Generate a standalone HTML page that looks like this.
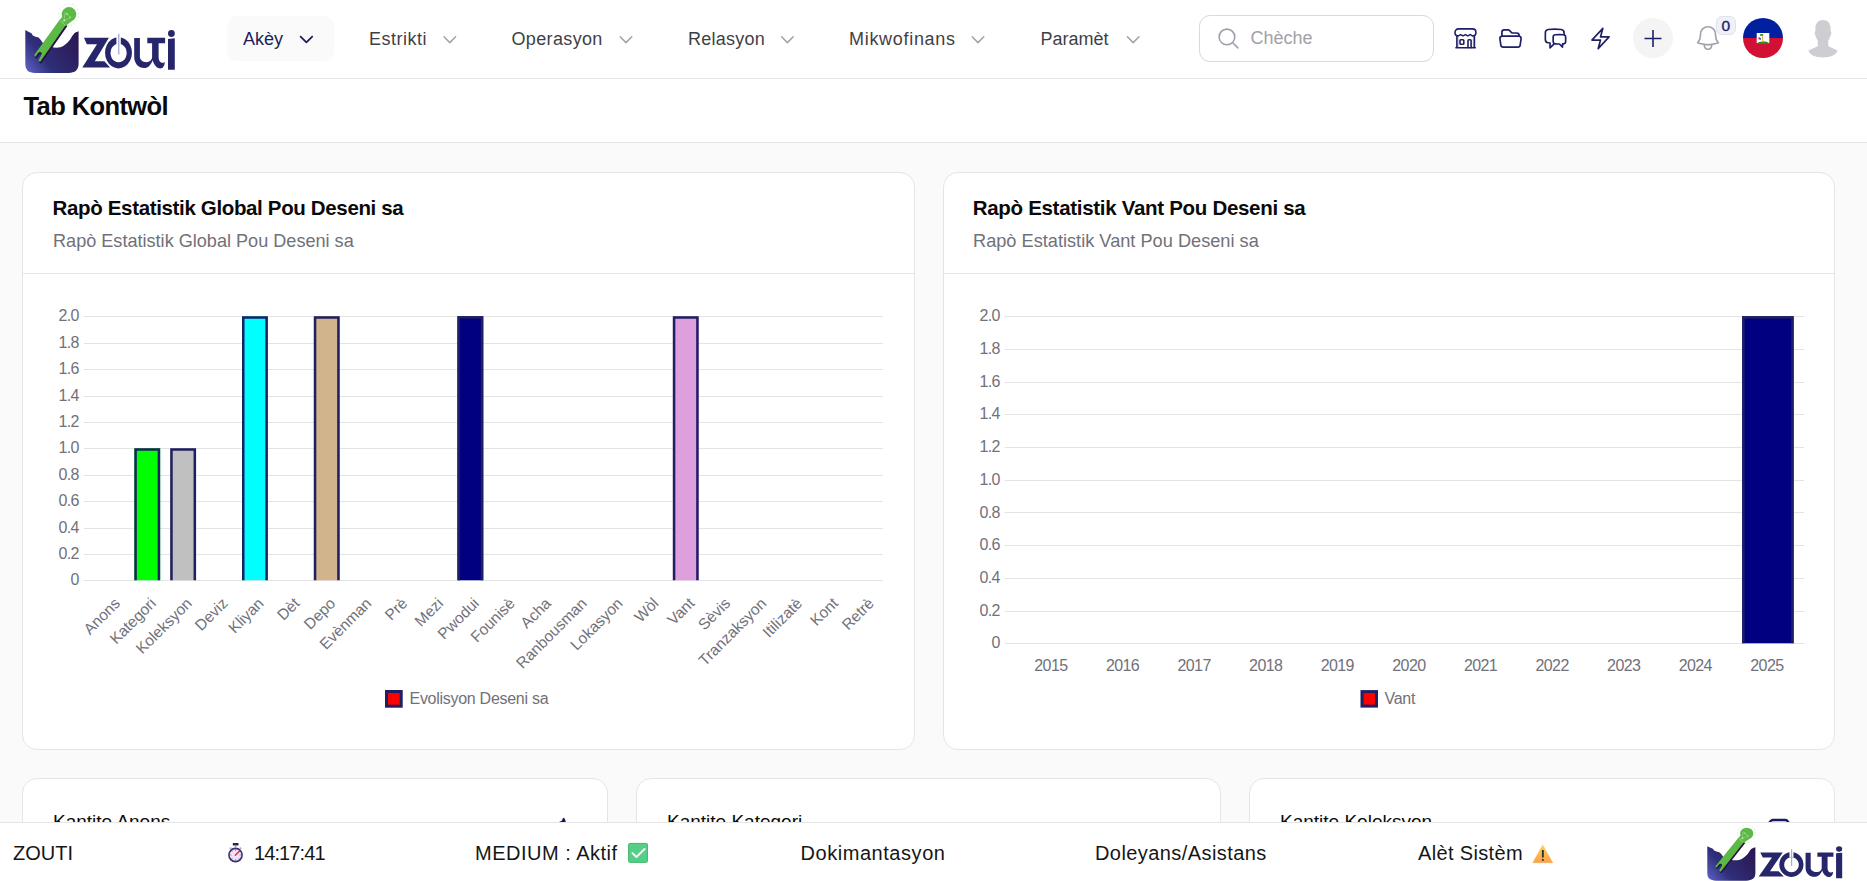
<!DOCTYPE html>
<html><head><meta charset="utf-8">
<style>
*{box-sizing:border-box;margin:0;padding:0}
html,body{width:1867px;height:881px;overflow:hidden;background:#fafafa;font-family:"Liberation Sans",sans-serif}
.abs{position:absolute}
.t{position:absolute;white-space:nowrap;line-height:1}
#hdr{position:absolute;left:0;top:0;width:1867px;height:79px;background:#fff;border-bottom:1px solid #e5e5e5;box-shadow:0 1px 2px rgba(0,0,0,0.035)}
#band{position:absolute;left:0;top:79px;width:1867px;height:64px;background:#fff;border-bottom:1px solid #e5e5e5}
.card{position:absolute;background:#fff;border:1px solid #e5e5e5;border-radius:15px}
.nav{font-size:18px;color:#3f3f46;top:29.6px}
.ax{font-size:15.5px;fill:#71717a;font-family:"Liberation Sans",sans-serif}.axn{font-size:16px;letter-spacing:-0.6px}
#ftr{position:absolute;left:0;top:822px;width:1867px;height:59px;background:#fff;border-top:1px solid #e5e5e5}
.ft{font-size:20px;color:#161616;top:842.8px}
</style></head><body>
<div id="hdr"></div>
<svg class="abs" style="left:15px;top:0" width="170" height="80" viewBox="15 0 170 80"><defs>
<linearGradient id="bowlg" x1="25" y1="72" x2="78" y2="35" gradientUnits="userSpaceOnUse">
<stop offset="0" stop-color="#6064c8"/>
<stop offset="0.35" stop-color="#2f2f7a"/>
<stop offset="1" stop-color="#2c1650"/>
</linearGradient>
</defs>
<path d="M25.3,30.1 L28.9,31.9 L31.5,33.2 L32.8,35.4 L35.5,36.8 L38.6,37.6 L40.8,39.9 L43.5,44 L51.9,46.9 C55,48 60,48.2 64.3,45.2 C67,43.3 69,41 70.5,39 C72,36.5 73,34.8 74,33.7 C75.2,32.5 76.8,31.7 78.6,31.3 L78.6,63.5 C78.6,70 75,72.9 68.5,72.9 L35,72.9 C28.5,72.9 25.3,70 25.3,63.5 Z" fill="url(#bowlg)"/>
<path transform="translate(0.9,2.0)" d="M60.0,19.3 L34.09,55.32 L35.45,56.68 L38.5,52.6 C39,51.9 40.2,51.8 40.9,52.3 C41.6,52.8 41.9,53.6 41.6,54.3 L38.5,60.4 L40.2,61.8 L66.5,24.0 Z" fill="#2a1243"/>
<path d="M60.0,19.3 L34.09,55.32 L35.45,56.68 L38.5,52.6 C39,51.9 40.2,51.8 40.9,52.3 C41.6,52.8 41.9,53.6 41.6,54.3 L38.5,60.4 L40.2,61.8 L66.5,24.0 Z" fill="#5cb946"/>
<circle cx="69" cy="14.3" r="7.3" fill="#5cb946"/>
<path d="M62.2,16.5 L59.6,20.6 L65.9,25.8 L72.6,20.4 Z" fill="#5cb946"/>
<g stroke="#e6f4df" fill="none" opacity="0.75">
<path d="M60.3,21.1 L65.6,25.4" stroke-width="0.55"/>
<path d="M65.2,12.3 L70.7,17.7 M65.2,12.3 L63.9,20.4 M61.9,21.4 L71.3,17.4" stroke-width="0.45"/>
</g>
<circle cx="67" cy="13.9" r="0.8" fill="#d4ecc8" opacity="0.8"/><circle cx="64.4" cy="20.4" r="1" fill="#d4ecc8" opacity="0.8"/><circle cx="70" cy="17.2" r="0.6" fill="#d4ecc8" opacity="0.8"/>
<path d="M68.96,4.35L68.96,3.15 M72.17,4.99L72.56,3.86 M65.44,5.32L64.99,4.21 M74.73,6.61L75.45,5.65 M62.56,7.25L61.75,6.37 M76.95,9.83L77.99,9.24 M60.64,9.82L59.58,9.25 M77.90,13.34L79.09,13.21 M59.34,13.34L58.15,13.22 M77.58,16.85L78.73,17.20 M59.66,16.87L58.51,17.18 M76.33,20.39L77.25,21.15 M74.11,23.31L74.70,24.36 M71.22,24.61L71.47,25.78 M68.32,25.28L68.24,26.48" stroke="#9fd68d" stroke-width="0.75" opacity="0.75"/>
<g fill="#27266b">
<path d="M84,37.8 H108.9 L94.8,61.3 H104.4 L110.1,67.6 H82.3 L97,44.2 H86.8 Z"/>
<ellipse cx="118.5" cy="52.8" rx="13.45" ry="15.6" fill="none" stroke="#fff" stroke-width="1.4"/><path fill-rule="evenodd" d="M118.5,37.2 A13.45,15.6 0 1 1 118.49,37.2 Z M118.6,43.7 A8.1,9.3 0 1 0 118.61,43.7 Z"/>
<path d="M134.2,38.05 L134.2,56.8 C134.2,63.5 138.5,68.1 144.1,68.1 C148,68.1 151,65 152.6,60.2 C154.2,65.3 157,68.4 160.6,68.4 C163,68.4 164.6,65.5 164.8,61.9 C163.8,62.6 162.8,62.9 161.7,62.7 C159.5,62.3 158.6,59.8 158.6,56.8 L158.6,43.2 L165.1,43.2 L165.1,37.8 L147.3,37.8 L147.3,43.2 L152.1,43.2 L152.1,56.8 C152.1,60 149.5,62.2 146.4,62.2 C142.6,62.2 139.9,59.8 139.9,56.8 L139.9,38.05 Z"/>
<path d="M168,38.9 L174.8,38.3 L174.8,69.8 L168,69.8 Z"/>
<circle cx="171.4" cy="33.5" r="3.4"/>
</g>
<rect x="116.4" y="36" width="4.4" height="8" fill="#fff"/>
<rect x="118.1" y="33.8" width="1.3" height="20.7" fill="#a9a9cf"/>
</svg>
<div class="abs" style="left:227px;top:16px;width:107px;height:45px;background:#fafafa;border-radius:10px"></div>
<div class="t nav" style="left:243px;color:#1e1e5c">Akèy</div>
<div class="t nav" style="left:369px;letter-spacing:0.5px">Estrikti</div>
<div class="t nav" style="left:511.5px;letter-spacing:0.35px">Operasyon</div>
<div class="t nav" style="left:688px;letter-spacing:0.25px">Relasyon</div>
<div class="t nav" style="left:849px;letter-spacing:0.7px">Mikwofinans</div>
<div class="t nav" style="left:1040.5px">Paramèt</div>
<svg class="abs" style="left:0;top:0" width="1867" height="80">
<g fill="none" stroke-linecap="round" stroke-linejoin="round">
<path d="M300.6,36.6 L306.4,42.4 L312.2,36.6" stroke="#1e1e5c" stroke-width="1.8"/>
<path d="M444,36.8 L449.8,42.6 L455.6,36.8" stroke="#a1a1aa" stroke-width="1.5"/>
<path d="M620.2,36.8 L626,42.6 L631.8,36.8" stroke="#a1a1aa" stroke-width="1.5"/>
<path d="M781.6,36.8 L787.4,42.6 L793.2,36.8" stroke="#a1a1aa" stroke-width="1.5"/>
<path d="M972.2,36.8 L978,42.6 L983.8,36.8" stroke="#a1a1aa" stroke-width="1.5"/>
<path d="M1127.4,36.8 L1133.2,42.6 L1139,36.8" stroke="#a1a1aa" stroke-width="1.5"/>
</g>
</svg>
<div class="abs" style="left:1199px;top:15px;width:235px;height:47px;border:1px solid #d9d9de;border-radius:11px;background:#fff"></div>
<svg class="abs" style="left:1215.5px;top:26.3px" width="25" height="25" viewBox="0 0 24 24"><path d="m21 21-5.197-5.197m0 0A7.5 7.5 0 1 0 5.196 5.196a7.5 7.5 0 0 0 10.607 10.607Z" fill="none" stroke="#9e9ea8" stroke-width="1.5" stroke-linecap="round"/></svg>
<div class="t" style="left:1250.5px;top:28.8px;font-size:18px;color:#a1a1aa">Chèche</div>
<!-- header icons -->
<svg class="abs" style="left:1450px;top:24px" width="30" height="28" viewBox="1450 24 30 28" fill="none" stroke="#1e1f66" stroke-width="1.6" stroke-linecap="round" stroke-linejoin="round">
<path d="M1458.4,28.9 H1472.6 C1474.6,28.9 1475.9,30.5 1475.9,32.4 C1475.9,34.4 1474.5,35.9 1472.6,35.9 L1470.2,34.6 L1467.8,35.9 L1465.4,34.6 L1463,35.9 L1460.6,34.6 L1458.3,35.9 C1456.4,35.9 1455,34.4 1455,32.4 C1455,30.5 1456.4,28.9 1458.4,28.9 Z"/>
<path d="M1456.9,36.3 V47.6 M1474.4,36.3 V47.6 M1455.9,47.7 H1475.3"/>
<path d="M1458.1,37 V47 M1473.3,37 V47" stroke-width="0.6" opacity="0.55"/>
<rect x="1460" y="39.7" width="3.8" height="4.5" rx="0.8"/>
<path d="M1468,47.6 V40.5 Q1468,39.7 1468.8,39.7 H1470.3 Q1471.1,39.7 1471.1,40.5 V47.6"/>
</svg>
<svg class="abs" style="left:1498px;top:26px" width="25" height="25" viewBox="0 0 24 24" fill="none" stroke="#1e1f66" stroke-width="1.6" stroke-linecap="round" stroke-linejoin="round"><path d="M3.75 9.776c.112-.017.227-.026.344-.026h15.812c.117 0 .232.009.344.026m-16.5 0a2.25 2.25 0 0 0-1.883 2.542l.857 6a2.25 2.25 0 0 0 2.227 1.932H19.05a2.25 2.25 0 0 0 2.227-1.932l.857-6a2.25 2.25 0 0 0-1.883-2.542m-16.5 0V6A2.25 2.25 0 0 1 6 3.75h3.879a1.5 1.5 0 0 1 1.06.44l2.122 2.12a1.5 1.5 0 0 0 1.06.44H18A2.25 2.25 0 0 1 20.25 9v.776"/></svg>
<svg class="abs" style="left:1543px;top:25.5px" width="25" height="25" viewBox="0 0 24 24" fill="none" stroke="#1e1f66" stroke-width="1.6" stroke-linecap="round" stroke-linejoin="round"><path d="M20.25 8.511c.884.284 1.5 1.128 1.5 2.097v4.286c0 1.136-.847 2.1-1.98 2.193-.34.027-.68.052-1.02.072v3.091l-3-3c-1.354 0-2.694-.055-4.02-.163a2.115 2.115 0 0 1-.825-.242m9.345-8.334a2.126 2.126 0 0 0-.476-.095 48.64 48.64 0 0 0-8.048 0c-1.131.094-1.976 1.057-1.976 2.192v4.286c0 .837.46 1.58 1.155 1.951m9.345-8.334V6.637c0-1.621-1.152-3.026-2.76-3.235A48.455 48.455 0 0 0 11.25 3c-2.115 0-4.198.137-6.24.402-1.608.209-2.76 1.614-2.76 3.235v6.226c0 1.621 1.152 3.026 2.76 3.235.577.075 1.157.14 1.74.194V21l4.155-4.155"/></svg>
<svg class="abs" style="left:1588px;top:26px" width="25" height="25" viewBox="0 0 24 24" fill="none" stroke="#1e1f66" stroke-width="1.6" stroke-linecap="round" stroke-linejoin="round"><path d="m3.75 13.5 10.5-11.25L12 10.5h8.25L9.75 21.75 12 13.5H3.75Z"/></svg>
<div class="abs" style="left:1633px;top:17.7px;width:40px;height:40px;border-radius:50%;background:#f4f4f5"></div>
<svg class="abs" style="left:1643px;top:27.7px" width="20" height="20" viewBox="0 0 20 20"><path d="M10 2v17M1.5 10.5h17" stroke="#1e1f66" stroke-width="1.6" fill="none"/></svg>
<svg class="abs" style="left:1692.9px;top:23.2px" width="30" height="30" viewBox="0 0 24 24" fill="none" stroke="#a1a1aa" stroke-width="1.3" stroke-linecap="round" stroke-linejoin="round"><path d="M14.857 17.082a23.848 23.848 0 0 0 5.454-1.31A8.967 8.967 0 0 1 18 9.75V9A6 6 0 0 0 6 9v.75a8.967 8.967 0 0 1-2.312 6.022c1.733.64 3.56 1.085 5.455 1.31m5.714 0a24.255 24.255 0 0 1-5.714 0m5.714 0a3 3 0 1 1-5.714 0"/></svg>
<div class="abs" style="left:1716.3px;top:16.1px;width:19.3px;height:19.4px;border-radius:6px;background:#eff0f8;border:1px solid #e0e2ef"></div>
<div class="t" style="left:1721.6px;top:17.6px;font-size:15.5px;color:#1e1f66;-webkit-text-stroke:0.35px #1e1f66">0</div>
<svg class="abs" style="left:1743px;top:17.7px" width="40" height="40" viewBox="1743 17.7 40 40">
<clipPath id="fc"><circle cx="1763" cy="37.7" r="20"/></clipPath>
<g clip-path="url(#fc)"><rect x="1743" y="17.7" width="40" height="20" fill="#00209f"/><rect x="1743" y="37.7" width="40" height="20" fill="#d21034"/>
<rect x="1756.7" y="32.7" width="12.6" height="10.1" fill="#fff"/>
<ellipse cx="1761.6" cy="34.6" rx="1.9" ry="0.9" fill="#1f8a35"/>
<path d="M1762.2,35.3 L1762.9,41.6" stroke="#d9b23a" stroke-width="1"/>
<circle cx="1759.3" cy="38" r="1.1" fill="#c0463f"/><circle cx="1760.3" cy="38.6" r="0.9" fill="#3d5cb0"/>
<path d="M1757.4,42.6 Q1759,41.2 1762,41.4 Q1766,40.6 1768.8,42.6 L1768.8,42.8 L1757.4,42.8 Z" fill="#158a2a"/>
<rect x="1761.5" y="41" width="1.8" height="1" fill="#c9a13a"/>
</g></svg>
<svg class="abs" style="left:1800px;top:15px" width="45" height="45" viewBox="1800 15 45 45"><path d="M1823,19.9 C1827.6,19.9 1830.6,23.3 1830.6,28.2 L1830.6,31.2 C1831.6,31.5 1831.5,33.6 1830.6,35.6 C1830,37.5 1829.5,39 1828.2,40.6 L1828.2,46 C1829.8,47.3 1834,48.6 1837.6,50.8 C1836,55 1830.5,57.5 1823,57.5 C1815.5,57.5 1810,55 1808.4,50.8 C1812,48.6 1816.2,47.3 1817.8,46 L1817.8,40.6 C1816.5,39 1816,37.5 1815.4,35.6 C1814.5,33.6 1814.4,31.5 1815.4,31.2 L1815.4,28.2 C1815.4,23.3 1818.4,19.9 1823,19.9 Z" fill="#cdced1"/></svg>

<div id="band"></div>
<div class="t" style="left:23.5px;top:93.5px;letter-spacing:-0.6px;font-size:25.5px;font-weight:bold;color:#0a0a0a">Tab Kontwòl</div>

<div class="card" style="left:22px;top:172px;width:893px;height:578px"></div>
<div class="card" style="left:943px;top:172px;width:892px;height:578px"></div>
<div class="abs" style="left:23px;top:273px;width:891px;height:1px;background:#e5e5e5"></div>
<div class="abs" style="left:944px;top:273px;width:890px;height:1px;background:#e5e5e5"></div>
<div class="t" style="left:52.6px;top:198px;letter-spacing:-0.35px;font-size:20.5px;font-weight:bold;color:#0a0a0a">Rapò Estatistik Global Pou Deseni sa</div>
<div class="t" style="left:53px;top:232.1px;font-size:18.1px;color:#71717a">Rapò Estatistik Global Pou Deseni sa</div>
<div class="t" style="left:972.7px;top:198px;letter-spacing:-0.3px;font-size:20.5px;font-weight:bold;color:#0a0a0a">Rapò Estatistik Vant Pou Deseni sa</div>
<div class="t" style="left:973px;top:232.1px;font-size:18.2px;color:#71717a">Rapò Estatistik Vant Pou Deseni sa</div>

<svg class="abs" style="left:0;top:0" width="1867" height="881">
<rect x="84" y="580" width="799" height="1" fill="#e4e4e7"/>
<text x="78.9" y="585.3" text-anchor="end" class="ax axn">0</text>
<rect x="84" y="554" width="799" height="1" fill="#e4e4e7"/>
<text x="78.9" y="558.9" text-anchor="end" class="ax axn">0.2</text>
<rect x="84" y="528" width="799" height="1" fill="#e4e4e7"/>
<text x="78.9" y="532.5" text-anchor="end" class="ax axn">0.4</text>
<rect x="84" y="501" width="799" height="1" fill="#e4e4e7"/>
<text x="78.9" y="506.1" text-anchor="end" class="ax axn">0.6</text>
<rect x="84" y="475" width="799" height="1" fill="#e4e4e7"/>
<text x="78.9" y="479.7" text-anchor="end" class="ax axn">0.8</text>
<rect x="84" y="448" width="799" height="1" fill="#e4e4e7"/>
<text x="78.9" y="453.3" text-anchor="end" class="ax axn">1.0</text>
<rect x="84" y="422" width="799" height="1" fill="#e4e4e7"/>
<text x="78.9" y="426.9" text-anchor="end" class="ax axn">1.2</text>
<rect x="84" y="396" width="799" height="1" fill="#e4e4e7"/>
<text x="78.9" y="400.5" text-anchor="end" class="ax axn">1.4</text>
<rect x="84" y="369" width="799" height="1" fill="#e4e4e7"/>
<text x="78.9" y="374.1" text-anchor="end" class="ax axn">1.6</text>
<rect x="84" y="343" width="799" height="1" fill="#e4e4e7"/>
<text x="78.9" y="347.7" text-anchor="end" class="ax axn">1.8</text>
<rect x="84" y="316" width="799" height="1" fill="#e4e4e7"/>
<text x="78.9" y="321.3" text-anchor="end" class="ax axn">2.0</text>
<text transform="translate(121.05,604.30) rotate(-45)" text-anchor="end" class="ax">Anons</text>
<path d="M134.32,580.30V448.30H160.18V580.30" fill="#00ff00"/>
<path d="M135.57,580.30V449.55H158.93V580.30" fill="none" stroke="#1f1f63" stroke-width="2.5"/>
<text transform="translate(156.95,604.30) rotate(-45)" text-anchor="end" class="ax">Kategori</text>
<path d="M170.22,580.30V448.30H196.07V580.30" fill="#c0c0c0"/>
<path d="M171.47,580.30V449.55H194.82V580.30" fill="none" stroke="#1f1f63" stroke-width="2.5"/>
<text transform="translate(192.85,604.30) rotate(-45)" text-anchor="end" class="ax">Koleksyon</text>
<text transform="translate(228.75,604.30) rotate(-45)" text-anchor="end" class="ax">Deviz</text>
<path d="M242.02,580.30V316.30H267.88V580.30" fill="#00ffff"/>
<path d="M243.27,580.30V317.55H266.62V580.30" fill="none" stroke="#1f1f63" stroke-width="2.5"/>
<text transform="translate(264.65,604.30) rotate(-45)" text-anchor="end" class="ax">Kliyan</text>
<text transform="translate(300.55,604.30) rotate(-45)" text-anchor="end" class="ax">Dèt</text>
<path d="M313.82,580.30V316.30H339.68V580.30" fill="#d2b48c"/>
<path d="M315.07,580.30V317.55H338.43V580.30" fill="none" stroke="#1f1f63" stroke-width="2.5"/>
<text transform="translate(336.45,604.30) rotate(-45)" text-anchor="end" class="ax">Depo</text>
<text transform="translate(372.35,604.30) rotate(-45)" text-anchor="end" class="ax">Evènman</text>
<text transform="translate(408.25,604.30) rotate(-45)" text-anchor="end" class="ax">Prè</text>
<text transform="translate(444.15,604.30) rotate(-45)" text-anchor="end" class="ax">Mezi</text>
<path d="M457.43,580.30V316.30H483.28V580.30" fill="#000080"/>
<path d="M458.68,580.30V317.55H482.03V580.30" fill="none" stroke="#1f1f63" stroke-width="2.5"/>
<text transform="translate(480.05,604.30) rotate(-45)" text-anchor="end" class="ax">Pwodui</text>
<text transform="translate(515.95,604.30) rotate(-45)" text-anchor="end" class="ax">Founisè</text>
<text transform="translate(551.85,604.30) rotate(-45)" text-anchor="end" class="ax">Acha</text>
<text transform="translate(587.75,604.30) rotate(-45)" text-anchor="end" class="ax">Ranbousman</text>
<text transform="translate(623.65,604.30) rotate(-45)" text-anchor="end" class="ax">Lokasyon</text>
<text transform="translate(659.55,604.30) rotate(-45)" text-anchor="end" class="ax">Wòl</text>
<path d="M672.83,580.30V316.30H698.67V580.30" fill="#dda0dd"/>
<path d="M674.08,580.30V317.55H697.42V580.30" fill="none" stroke="#1f1f63" stroke-width="2.5"/>
<text transform="translate(695.45,604.30) rotate(-45)" text-anchor="end" class="ax">Vant</text>
<text transform="translate(731.35,604.30) rotate(-45)" text-anchor="end" class="ax">Sèvis</text>
<text transform="translate(767.25,604.30) rotate(-45)" text-anchor="end" class="ax">Tranzaksyon</text>
<text transform="translate(803.15,604.30) rotate(-45)" text-anchor="end" class="ax">Itilizatè</text>
<text transform="translate(839.05,604.30) rotate(-45)" text-anchor="end" class="ax">Kont</text>
<text transform="translate(874.95,604.30) rotate(-45)" text-anchor="end" class="ax">Retrè</text>
<rect x="1004.6" y="643" width="799.4" height="1" fill="#e4e4e7"/>
<text x="999.9" y="648.3" text-anchor="end" class="ax axn">0</text>
<rect x="1004.6" y="611" width="799.4" height="1" fill="#e4e4e7"/>
<text x="999.9" y="615.6" text-anchor="end" class="ax axn">0.2</text>
<rect x="1004.6" y="578" width="799.4" height="1" fill="#e4e4e7"/>
<text x="999.9" y="582.9" text-anchor="end" class="ax axn">0.4</text>
<rect x="1004.6" y="545" width="799.4" height="1" fill="#e4e4e7"/>
<text x="999.9" y="550.2" text-anchor="end" class="ax axn">0.6</text>
<rect x="1004.6" y="512" width="799.4" height="1" fill="#e4e4e7"/>
<text x="999.9" y="517.5" text-anchor="end" class="ax axn">0.8</text>
<rect x="1004.6" y="480" width="799.4" height="1" fill="#e4e4e7"/>
<text x="999.9" y="484.8" text-anchor="end" class="ax axn">1.0</text>
<rect x="1004.6" y="447" width="799.4" height="1" fill="#e4e4e7"/>
<text x="999.9" y="452.1" text-anchor="end" class="ax axn">1.2</text>
<rect x="1004.6" y="414" width="799.4" height="1" fill="#e4e4e7"/>
<text x="999.9" y="419.4" text-anchor="end" class="ax axn">1.4</text>
<rect x="1004.6" y="382" width="799.4" height="1" fill="#e4e4e7"/>
<text x="999.9" y="386.7" text-anchor="end" class="ax axn">1.6</text>
<rect x="1004.6" y="349" width="799.4" height="1" fill="#e4e4e7"/>
<text x="999.9" y="354.0" text-anchor="end" class="ax axn">1.8</text>
<rect x="1004.6" y="316" width="799.4" height="1" fill="#e4e4e7"/>
<text x="999.9" y="321.3" text-anchor="end" class="ax axn">2.0</text>
<text x="1050.9" y="671.1" text-anchor="middle" class="ax axn">2015</text>
<text x="1122.5" y="671.1" text-anchor="middle" class="ax axn">2016</text>
<text x="1194.1" y="671.1" text-anchor="middle" class="ax axn">2017</text>
<text x="1265.7" y="671.1" text-anchor="middle" class="ax axn">2018</text>
<text x="1337.3" y="671.1" text-anchor="middle" class="ax axn">2019</text>
<text x="1408.9" y="671.1" text-anchor="middle" class="ax axn">2020</text>
<text x="1480.5" y="671.1" text-anchor="middle" class="ax axn">2021</text>
<text x="1552.1" y="671.1" text-anchor="middle" class="ax axn">2022</text>
<text x="1623.7" y="671.1" text-anchor="middle" class="ax axn">2023</text>
<text x="1695.3" y="671.1" text-anchor="middle" class="ax axn">2024</text>
<text x="1766.9" y="671.1" text-anchor="middle" class="ax axn">2025</text>
<path d="M1742.15,643.30V316.30H1793.65V643.30" fill="#000080"/>
<path d="M1743.40,643.30V317.55H1792.40V643.30" fill="none" stroke="#1f1f63" stroke-width="2.5"/>
<rect x="386.5" y="691.5" width="14.7" height="14.7" fill="#ff0000" stroke="#1f1f63" stroke-width="3"/>
<text x="409.5" y="704.2" class="ax" style="font-size:16px;letter-spacing:-0.28px">Evolisyon Deseni sa</text>
<rect x="1362" y="691.6" width="14.5" height="14.5" fill="#ff0000" stroke="#1f1f63" stroke-width="3"/>
<text x="1384.5" y="704" class="ax" style="font-size:16px;letter-spacing:-0.3px">Vant</text>
</svg>

<div class="card" style="left:22px;top:778px;width:586px;height:200px"></div>
<div class="card" style="left:636px;top:778px;width:585px;height:200px"></div>
<div class="card" style="left:1249px;top:778px;width:586px;height:200px"></div>
<div class="t" style="left:53px;top:812px;font-size:19px;color:#0a0a0a">Kantite Anons</div>
<div class="t" style="left:667px;top:812px;font-size:19px;color:#0a0a0a">Kantite Kategori</div>
<div class="t" style="left:1280px;top:812px;font-size:19px;color:#0a0a0a">Kantite Koleksyon</div>
<svg class="abs" style="left:0;top:800px" width="1867" height="30" viewBox="0 800 1867 30"><path d="M558.2,822.5 C560,821.6 561.9,821.2 562.3,819.8 C562.6,818.4 563.3,817.6 564.1,817.9 C565,818.4 565.5,820.5 565.8,822.5 Z" fill="#14145e"/><path d="M1768.8,823 L1771.3,820.5 Q1771.9,820 1773,820 H1785 Q1786.3,820 1787,820.5 L1789,823" fill="none" stroke="#181a62" stroke-width="2.3"/></svg>


<div id="ftr"></div>
<div class="t ft" style="left:13px">ZOUTI</div>
<svg class="abs" style="left:222px;top:838px" width="28" height="28" viewBox="222 838 28 28">
<rect x="232.8" y="842.9" width="5.7" height="2.7" rx="0.6" fill="#2a1f5e"/><rect x="234.8" y="845.4" width="1.6" height="1.8" fill="#9a9aa8"/>
<path d="M229.2,848.3 L230.8,846.9 L232,848.2 L230.4,849.6Z M241.8,848.3 L240.2,846.9 L239,848.2 L240.6,849.6Z" fill="#b0b0bb"/>
<circle cx="235.5" cy="855" r="7.4" fill="#3f2d73"/>
<circle cx="235.5" cy="855" r="5.8" fill="#ece6f3"/>
<g stroke="#5a5a6e" stroke-width="0.7"><path d="M235.5,849.7v1.2M235.5,859.1v1.2M230.2,855h1.2M239.6,855h1.2M231.8,851.3l0.8,0.8M238.4,857.9l0.8,0.8M239.2,851.3l-0.8,0.8M232.6,857.9l-0.8,0.8"/></g>
<path d="M235.3,855.3 L239.6,851" stroke="#e0245e" stroke-width="1.4" stroke-linecap="round"/>
</svg>
<div class="t ft" style="left:254px;letter-spacing:-0.9px">14:17:41</div>
<div class="t ft" style="left:475px;letter-spacing:0.5px">MEDIUM : Aktif</div>
<svg class="abs" style="left:624px;top:838px" width="28" height="28" viewBox="624 838 28 28">
<rect x="628.1" y="842.9" width="19.9" height="19.9" rx="2.2" fill="#56cf86"/>
<rect x="628.6" y="843.4" width="18.9" height="18.9" rx="1.8" fill="none" stroke="#49b873" stroke-width="1"/>
<path d="M632.4,853.1 L636.4,857 L644.6,849" fill="none" stroke="#fdf2ff" stroke-width="1.9" stroke-linecap="round" stroke-linejoin="round"/>
</svg>
<div class="t ft" style="left:800.5px;letter-spacing:0.55px">Dokimantasyon</div>
<div class="t ft" style="left:1095px;letter-spacing:0.42px">Doleyans/Asistans</div>
<div class="t ft" style="left:1418px;letter-spacing:0.35px">Alèt Sistèm</div>
<svg class="abs" style="left:1528px;top:838px" width="28" height="28" viewBox="1528 838 28 28">
<defs><linearGradient id="wg" x1="0" y1="845" x2="0" y2="863" gradientUnits="userSpaceOnUse"><stop offset="0" stop-color="#fdd24c"/><stop offset="1" stop-color="#f9a24d"/></linearGradient></defs>
<path d="M1542.7,844.9 L1552.7,862.7 L1532.9,862.7 Z" fill="url(#wg)" stroke="url(#wg)" stroke-width="0.6" stroke-linejoin="round"/>
<rect x="1541.9" y="850" width="1.9" height="7.4" rx="0.5" fill="#2f2d52"/>
<rect x="1541.9" y="859" width="1.9" height="1.8" rx="0.4" fill="#2f2d52"/>
</svg>
<svg class="abs" style="left:1697.76px;top:822.2px" width="153.4" height="64.4" viewBox="15 0 170 80" preserveAspectRatio="none"><defs>
<linearGradient id="bowlg2" x1="25" y1="72" x2="78" y2="35" gradientUnits="userSpaceOnUse">
<stop offset="0" stop-color="#6064c8"/>
<stop offset="0.35" stop-color="#2f2f7a"/>
<stop offset="1" stop-color="#2c1650"/>
</linearGradient>
</defs>
<path d="M25.3,30.1 L28.9,31.9 L31.5,33.2 L32.8,35.4 L35.5,36.8 L38.6,37.6 L40.8,39.9 L43.5,44 L51.9,46.9 C55,48 60,48.2 64.3,45.2 C67,43.3 69,41 70.5,39 C72,36.5 73,34.8 74,33.7 C75.2,32.5 76.8,31.7 78.6,31.3 L78.6,63.5 C78.6,70 75,72.9 68.5,72.9 L35,72.9 C28.5,72.9 25.3,70 25.3,63.5 Z" fill="url(#bowlg2)"/>
<path transform="translate(0.9,2.0)" d="M60.0,19.3 L34.09,55.32 L35.45,56.68 L38.5,52.6 C39,51.9 40.2,51.8 40.9,52.3 C41.6,52.8 41.9,53.6 41.6,54.3 L38.5,60.4 L40.2,61.8 L66.5,24.0 Z" fill="#2a1243"/>
<path d="M60.0,19.3 L34.09,55.32 L35.45,56.68 L38.5,52.6 C39,51.9 40.2,51.8 40.9,52.3 C41.6,52.8 41.9,53.6 41.6,54.3 L38.5,60.4 L40.2,61.8 L66.5,24.0 Z" fill="#5cb946"/>
<circle cx="69" cy="14.3" r="7.3" fill="#5cb946"/>
<path d="M62.2,16.5 L59.6,20.6 L65.9,25.8 L72.6,20.4 Z" fill="#5cb946"/>
<g stroke="#e6f4df" fill="none" opacity="0.75">
<path d="M60.3,21.1 L65.6,25.4" stroke-width="0.55"/>
<path d="M65.2,12.3 L70.7,17.7 M65.2,12.3 L63.9,20.4 M61.9,21.4 L71.3,17.4" stroke-width="0.45"/>
</g>
<circle cx="67" cy="13.9" r="0.8" fill="#d4ecc8" opacity="0.8"/><circle cx="64.4" cy="20.4" r="1" fill="#d4ecc8" opacity="0.8"/><circle cx="70" cy="17.2" r="0.6" fill="#d4ecc8" opacity="0.8"/>
<path d="M68.96,4.35L68.96,3.15 M72.17,4.99L72.56,3.86 M65.44,5.32L64.99,4.21 M74.73,6.61L75.45,5.65 M62.56,7.25L61.75,6.37 M76.95,9.83L77.99,9.24 M60.64,9.82L59.58,9.25 M77.90,13.34L79.09,13.21 M59.34,13.34L58.15,13.22 M77.58,16.85L78.73,17.20 M59.66,16.87L58.51,17.18 M76.33,20.39L77.25,21.15 M74.11,23.31L74.70,24.36 M71.22,24.61L71.47,25.78 M68.32,25.28L68.24,26.48" stroke="#9fd68d" stroke-width="0.75" opacity="0.75"/>
<g fill="#27266b">
<path d="M84,37.8 H108.9 L94.8,61.3 H104.4 L110.1,67.6 H82.3 L97,44.2 H86.8 Z"/>
<ellipse cx="118.5" cy="52.8" rx="13.45" ry="15.6" fill="none" stroke="#fff" stroke-width="1.4"/><path fill-rule="evenodd" d="M118.5,37.2 A13.45,15.6 0 1 1 118.49,37.2 Z M118.6,43.7 A8.1,9.3 0 1 0 118.61,43.7 Z"/>
<path d="M134.2,38.05 L134.2,56.8 C134.2,63.5 138.5,68.1 144.1,68.1 C148,68.1 151,65 152.6,60.2 C154.2,65.3 157,68.4 160.6,68.4 C163,68.4 164.6,65.5 164.8,61.9 C163.8,62.6 162.8,62.9 161.7,62.7 C159.5,62.3 158.6,59.8 158.6,56.8 L158.6,43.2 L165.1,43.2 L165.1,37.8 L147.3,37.8 L147.3,43.2 L152.1,43.2 L152.1,56.8 C152.1,60 149.5,62.2 146.4,62.2 C142.6,62.2 139.9,59.8 139.9,56.8 L139.9,38.05 Z"/>
<path d="M168,38.9 L174.8,38.3 L174.8,69.8 L168,69.8 Z"/>
<circle cx="171.4" cy="33.5" r="3.4"/>
</g>
<rect x="116.4" y="36" width="4.4" height="8" fill="#fff"/>
<rect x="118.1" y="33.8" width="1.3" height="20.7" fill="#a9a9cf"/>
</svg>
</body></html>
